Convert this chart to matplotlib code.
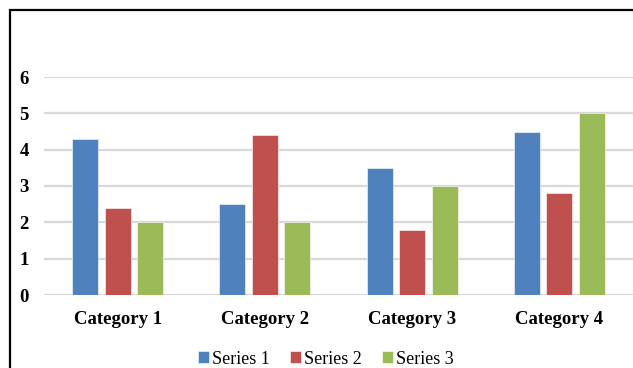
import matplotlib
matplotlib.use("Agg")
import matplotlib.pyplot as plt
import numpy as np
from matplotlib.patches import Rectangle

categories = ["Category 1", "Category 2", "Category 3", "Category 4"]
series_names = ["Series 1", "Series 2", "Series 3"]
series1 = [4.3, 2.5, 3.5, 4.5]
series2 = [2.4, 4.4, 1.8, 2.8]
series3 = [2.0, 2.0, 3.0, 5.0]
yticks = [0, 1, 2, 3, 4, 5, 6]

colors = ["#4F81BD", "#C0504D", "#9BBB59"]

W, H = 633, 368
fig = plt.figure(figsize=(W / 100, H / 100), dpi=100)
ax = fig.add_axes([44 / W, 1 - 295 / H, 1 - 44 / W, (295 - 77) / H])

x = np.arange(len(categories))
bw = 0.177
off = 0.221
for i, (vals, name) in enumerate(zip([series1, series2, series3], series_names)):
    ax.bar(x + (i - 1) * off, vals, width=bw, color=colors[i], label=name,
           edgecolor="white", linewidth=0.4, zorder=3)

ax.set_xlim(-0.5, 3.5)
ax.set_ylim(0, 6)
ax.set_yticks(yticks)
ax.set_xticks(x)
ax.set_xticklabels(categories)
ax.yaxis.grid(True, color="#D9D9D9", linewidth=1.6, zorder=0)
ax.set_axisbelow(True)
for s in ax.spines.values():
    s.set_visible(False)
ax.tick_params(axis="both", length=0)
ax.tick_params(axis="y", pad=11)
ax.tick_params(axis="x", pad=11.5)
for lbl in ax.get_xticklabels() + ax.get_yticklabels():
    lbl.set_fontfamily("Liberation Serif")
    lbl.set_fontweight("bold")
    lbl.set_fontsize(13.5)

leg = fig.legend(loc="center", bbox_to_anchor=(326 / W, 1 - 359 / H), ncol=3,
                 frameon=False, prop={"family": "Liberation Serif", "size": 13},
                 handlelength=0.6, handleheight=0.6, handletextpad=0.2,
                 columnspacing=1.1)

rect = Rectangle((10 / W, -0.05), 1.2, 1 - 10 / H + 0.05, transform=fig.transFigure,
                 fill=False, edgecolor="black", linewidth=1.6)
fig.patches.append(rect)

fig.savefig("out.png", dpi=100)
